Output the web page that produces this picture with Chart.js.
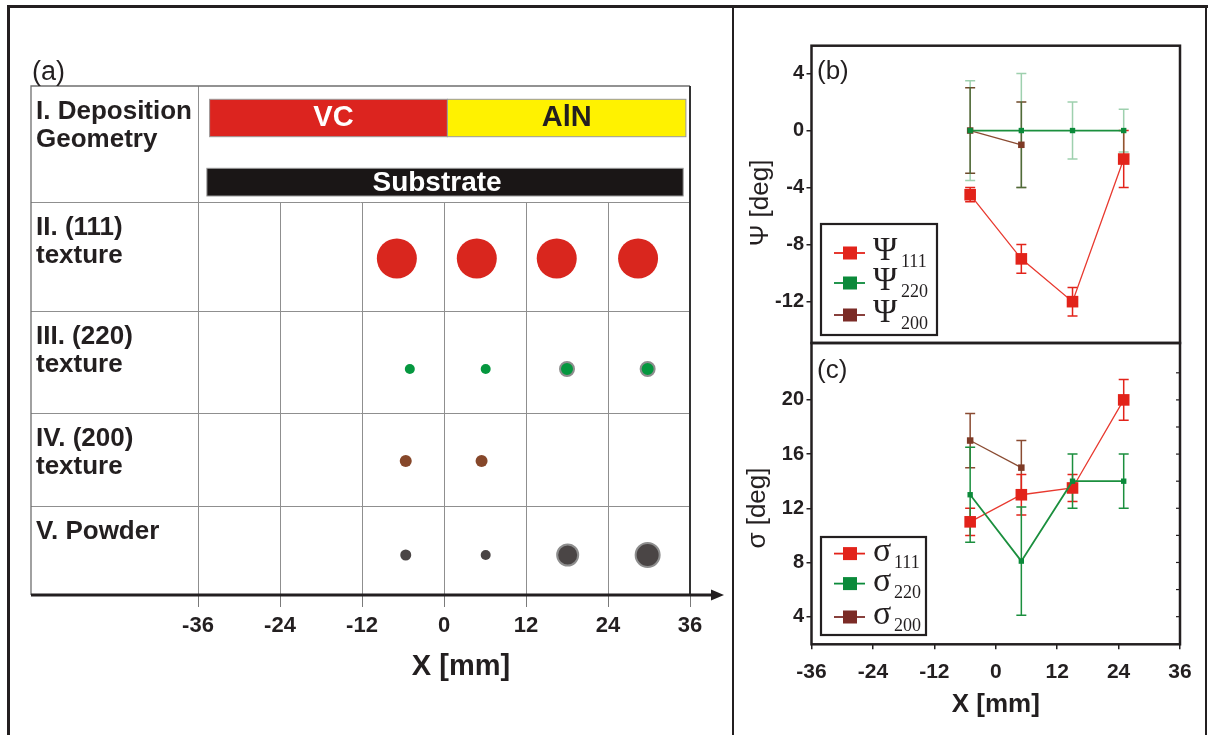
<!DOCTYPE html>
<html>
<head>
<meta charset="utf-8">
<title>Texture and tilt across the VC/AlN gradient</title>
<script src="https://cdn.jsdelivr.net/npm/chart.js@4.4.1/dist/chart.umd.min.js"></script>
<style>
  html, body { margin: 0; padding: 0; background: #fff; }
  body { width: 1211px; height: 735px; position: relative; overflow: hidden; }
  canvas { position: absolute; }
  #schemeChart { left: 0; top: 0; }
  #psiChart { left: 740px; top: 0; }
  #sigmaChart { left: 740px; top: 320px; }
  .rule { position: absolute; background: #231f20; }
</style>
</head>
<body>
<canvas id="schemeChart" width="733" height="735"></canvas>
<canvas id="sigmaChart" width="471" height="415"></canvas>
<canvas id="psiChart" width="471" height="370"></canvas>
<div class="rule" style="left:7px; top:5px; width:1201px; height:2.7px"></div>
<div class="rule" style="left:7.3px; top:5px; width:2.7px; height:740px"></div>
<div class="rule" style="left:1204.7px; top:5px; width:2.7px; height:740px"></div>
<div class="rule" style="left:731.6px; top:5px; width:2.7px; height:740px"></div>
<script>
const ink = '#231f20';

// ---- (a) texture map along the sample ----
const axisTicks = [-36, -24, -12, 0, 12, 24, 36];
const rowLabels = [
    ['I. Deposition', 'Geometry'],
    ['II. (111)', 'texture'],
    ['III. (220)', 'texture'],
    ['IV. (200)', 'texture'],
    ['V. Powder']
];
const tex111X = [-6.9, 4.8, 16.5, 28.4];
const tex111R = [20, 20, 20, 20];
const tex220X = [-5.0, 6.1, 18.0, 29.8];
const tex220R = [5, 5, 6, 6];
const tex220Halo = [0, 0, 2, 2];
const tex200X = [-5.6, 5.5];
const tex200R = [6, 6];
const powderX = [-5.6, 6.1, 18.1, 29.8];
const powderR = [5.5, 5, 9.5, 11];
const powderHalo = [0, 0, 2, 2];

// ---- (b) tilt and (c) spread of the texture components ----
const xPos = [-5, 5, 15, 25];
const psiTicks = [-12, -8, -4, 0, 4];
const psi111 = [-4.5, -9, -12, -2];
const psi111Err = [0.5, 1, 1, 2];
const psi220 = [0, 0, 0, 0];
const psi220Err = [3.5, 4, 2, 1.5];
const psi200 = [0, -1];
const psi200Err = [3, 3];

const sigmaTicks = [4, 8, 12, 16, 20];
const sigmaMinorTicks = [4, 6, 8, 10, 12, 14, 16, 18, 20, 22];
const sigma111 = [11, 13, 13.5, 20];
const sigma111Err = [1, 1.5, 1, 1.5];
const sigma220 = [13, 8.1, 14, 14];
const sigma220Err = [3.5, 4, 2, 2];
const sigma200 = [17, 15];
const sigma200Err = [2, 2];

// colours
const red = '#e2231a';
const green = '#0b8a3a';
const brown = '#7e3a26';

Chart.defaults.font.family = "'Liberation Sans', Arial, sans-serif";
Chart.defaults.color = ink;

// table rows (top to bottom) in table units, 1 unit = 1 px
const rowHeights = [116, 109, 102, 93, 89];
const rowDotDrop = [0, 2, 7, 1.5, 4.5];
const tableSpan = rowHeights.reduce((a, b) => a + b, 0);
function rowTop(i) {
    return tableSpan - rowHeights.slice(0, i).reduce((a, b) => a + b, 0);
}
function rowMid(i) {
    return rowTop(i) - rowHeights[i] / 2;
}

const depositionBars = [
    { label: 'VC', from: -34.3, to: 0.5, fill: '#dc241f', text: '#fff' },
    { label: 'AlN', from: 0.5, to: 35.4, fill: '#fff200', text: ink }
];
const substrateBar = { label: 'Substrate', from: -34.7, to: 35.0 };

function bubbleSet(xs, rs, halo, row, color) {
    const h = halo || xs.map(() => 0);
    return {
        data: xs.map((x, i) => ({ x: x, y: rowMid(row) - rowDotDrop[row], r: rs[i] + h[i] / 2 })),
        backgroundColor: color,
        borderColor: '#8e8e8e',
        borderWidth: h,
        clip: false
    };
}

const schemeTable = {
    id: 'schemeTable',
    beforeDatasetsDraw(chart) {
        const { ctx, chartArea: ca, scales: { x, y } } = chart;
        const tableLeft = 31;
        ctx.save();

        // row separators
        ctx.strokeStyle = '#8f8f8f';
        ctx.lineWidth = 1;
        for (let i = 1; i < rowHeights.length; i++) {
            const py = Math.round(y.getPixelForValue(rowTop(i))) + 0.5;
            ctx.beginPath();
            ctx.moveTo(tableLeft, py);
            ctx.lineTo(ca.right, py);
            ctx.stroke();
        }
        // column lines, only below the deposition row
        const row2 = y.getPixelForValue(rowTop(1));
        axisTicks.forEach(v => {
            const px = Math.round(x.getPixelForValue(v)) + 0.5;
            ctx.beginPath();
            ctx.moveTo(px, (v === axisTicks[0]) ? ca.top : row2);
            ctx.lineTo(px, ca.bottom);
            ctx.stroke();
        });
        // table border
        ctx.strokeStyle = '#6f6f6f';
        ctx.lineWidth = 1.3;
        ctx.beginPath();
        ctx.moveTo(tableLeft, ca.bottom);
        ctx.lineTo(tableLeft, ca.top);
        ctx.lineTo(ca.right, ca.top);
        ctx.stroke();
        ctx.strokeStyle = '#333';
        ctx.lineWidth = 2;
        ctx.beginPath();
        ctx.moveTo(ca.right, ca.top);
        ctx.lineTo(ca.right, ca.bottom);
        ctx.stroke();

        // deposition geometry
        const r1 = ca.top;
        ctx.textAlign = 'center';
        ctx.textBaseline = 'middle';
        ctx.lineWidth = 1;
        ctx.strokeStyle = '#9a9a9a';
        depositionBars.forEach(b => {
            const x0 = x.getPixelForValue(b.from), x1 = x.getPixelForValue(b.to);
            ctx.fillStyle = b.fill;
            ctx.fillRect(x0, r1 + 13.3, x1 - x0, 37.4);
            ctx.strokeRect(x0, r1 + 13.3, x1 - x0, 37.4);
            ctx.fillStyle = b.text;
            ctx.font = "bold 29px 'Liberation Sans', Arial";
            ctx.fillText(b.label, (x0 + x1) / 2 + (b.label === 'VC' ? 5 : 0), r1 + 32);
        });
        const s0 = x.getPixelForValue(substrateBar.from), s1 = x.getPixelForValue(substrateBar.to);
        ctx.fillStyle = '#1a1616';
        ctx.fillRect(s0, r1 + 82.3, s1 - s0, 27.7);
        ctx.strokeRect(s0, r1 + 82.3, s1 - s0, 27.7);
        ctx.fillStyle = '#fff';
        ctx.font = "bold 28px 'Liberation Sans', Arial";
        ctx.fillText(substrateBar.label, (s0 + s1) / 2 - 8, r1 + 97);

        // row labels
        ctx.fillStyle = ink;
        ctx.textAlign = 'left';
        ctx.textBaseline = 'alphabetic';
        ctx.font = "bold 26px 'Liberation Sans', Arial";
        rowLabels.forEach((lines, i) => {
            const top = y.getPixelForValue(rowTop(i));
            lines.forEach((t, k) => ctx.fillText(t, 36, top + 33 + k * 28));
        });
        ctx.restore();
    },
    afterDraw(chart) {
        const { ctx, chartArea: ca } = chart;
        ctx.save();
        // position axis with arrow head
        ctx.strokeStyle = ink;
        ctx.fillStyle = ink;
        ctx.lineWidth = 3;
        ctx.beginPath();
        ctx.moveTo(31, ca.bottom);
        ctx.lineTo(713, ca.bottom);
        ctx.stroke();
        ctx.beginPath();
        ctx.moveTo(711, ca.bottom - 5.5);
        ctx.lineTo(724, ca.bottom);
        ctx.lineTo(711, ca.bottom + 5.5);
        ctx.closePath();
        ctx.fill();

        ctx.textAlign = 'center';
        ctx.textBaseline = 'middle';
        ctx.font = "bold 29px 'Liberation Sans', Arial";
        ctx.fillText('X [mm]', 461, 667);

        ctx.textAlign = 'left';
        ctx.textBaseline = 'alphabetic';
        ctx.font = "27px 'Liberation Sans', Arial";
        ctx.fillText('(a)', 32, 80);
        ctx.restore();
    }
};

new Chart(document.getElementById('schemeChart'), {
    type: 'bubble',
    data: {
        datasets: [
            bubbleSet(tex111X, tex111R, null, 1, '#d9261e'),
            bubbleSet(tex220X, tex220R, tex220Halo, 2, '#05973f'),
            bubbleSet(tex200X, tex200R, null, 3, '#86472a'),
            bubbleSet(powderX, powderR, powderHalo, 4, '#4a4545')
        ]
    },
    options: {
        responsive: false,
        animation: false,
        events: [],
        layout: { padding: { left: 198, right: 43, top: 86, bottom: 0 } },
        plugins: { legend: { display: false }, tooltip: { enabled: false } },
        scales: {
            x: {
                type: 'linear',
                min: -36,
                max: 36,
                afterBuildTicks: s => { s.ticks = axisTicks.map(v => ({ value: v })); },
                afterFit: s => { s.height = 140; },
                grid: { drawOnChartArea: false, tickLength: 12, color: '#7a7a7a', lineWidth: 1 },
                border: { display: false },
                ticks: { font: { size: 22, weight: 'bold' }, padding: 6, color: ink }
            },
            y: { type: 'linear', display: false, min: 0, max: tableSpan }
        }
    },
    plugins: [schemeTable]
});

// ---- shared pieces for (b) and (c) ----
const errorBars = {
    id: 'errorBars',
    beforeDatasetsDraw(chart) {
        const { ctx, scales: { x, y } } = chart;
        const sets = chart.data.datasets.slice().sort((a, b) => b.order - a.order);
        ctx.save();
        sets.forEach(ds => {
            ctx.strokeStyle = ds.errorColor;
            ctx.lineWidth = 1.5;
            ds.data.forEach((p, i) => {
                const e = ds.errors[i];
                const px = x.getPixelForValue(p.x);
                const hi = y.getPixelForValue(p.y + e);
                const lo = y.getPixelForValue(p.y - e);
                ctx.beginPath();
                ctx.moveTo(px, hi); ctx.lineTo(px, lo);
                ctx.moveTo(px - 5, hi); ctx.lineTo(px + 5, hi);
                ctx.moveTo(px - 5, lo); ctx.lineTo(px + 5, lo);
                ctx.stroke();
            });
        });
        ctx.restore();
    }
};

const panelDecor = {
    id: 'panelDecor',
    afterDatasetsDraw(chart, args, opts) {
        const { ctx, chartArea: ca, scales: { y } } = chart;
        ctx.save();
        // plot frame
        ctx.strokeStyle = ink;
        ctx.lineWidth = 2.5;
        ctx.strokeRect(ca.left, ca.top, ca.right - ca.left, ca.bottom - ca.top);

        // inward ticks on the right edge
        ctx.lineWidth = 1.2;
        (opts.rightTicks || []).forEach(v => {
            const py = y.getPixelForValue(v);
            ctx.beginPath();
            ctx.moveTo(ca.right, py);
            ctx.lineTo(ca.right - 4, py);
            ctx.stroke();
        });

        // panel letter
        ctx.fillStyle = ink;
        ctx.font = "26px 'Liberation Sans', Arial";
        ctx.textAlign = 'left';
        ctx.textBaseline = 'alphabetic';
        ctx.fillText(opts.letter, ca.left + 5.5, ca.top + opts.letterDrop);

        // y title
        ctx.save();
        ctx.translate(ca.left - opts.titleGap, (ca.top + ca.bottom) / 2 + opts.titleShift);
        ctx.rotate(-Math.PI / 2);
        ctx.textAlign = 'center';
        ctx.textBaseline = 'middle';
        ctx.font = "26px 'Liberation Sans', Arial";
        ctx.fillText(opts.yTitle, 0, 0);
        ctx.restore();

        // legend
        const lg = opts.legend;
        const left = ca.left + 9.5;
        const top = ca.bottom - lg.dy - lg.h;
        ctx.fillStyle = '#fff';
        ctx.fillRect(left, top, lg.w, lg.h);
        ctx.lineWidth = 2.2;
        ctx.strokeStyle = ink;
        ctx.strokeRect(left, top, lg.w, lg.h);
        lg.items.forEach((it, i) => {
            const cy = top + lg.rows[i];
            ctx.strokeStyle = it.color;
            ctx.lineWidth = 1.8;
            ctx.beginPath();
            ctx.moveTo(left + 13, cy);
            ctx.lineTo(left + 44, cy);
            ctx.stroke();
            ctx.fillStyle = it.color;
            ctx.fillRect(left + 22, cy - 6.5, 14, 13);
            ctx.fillStyle = ink;
            ctx.font = lg.symFont;
            ctx.fillText(it.sym, left + 52, cy + 7);
            ctx.font = "18px 'Liberation Serif', 'Times New Roman', serif";
            ctx.fillText(it.sub, left + lg.subX, cy + 14);
        });
        ctx.restore();
    }
};

function series(ys, errs, color, lineColor, errColor, size, order, lineWidth) {
    return {
        data: ys.map((v, i) => ({ x: xPos[i], y: v })),
        errors: errs,
        errorColor: errColor,
        borderColor: lineColor,
        borderWidth: lineWidth,
        pointStyle: 'rect',
        pointRadius: size,
        pointBackgroundColor: color,
        pointBorderWidth: 0,
        order: order,
        tension: 0,
        clip: false
    };
}

const commonOptions = {
    responsive: false,
    animation: false,
    events: []
};

const yAxisBase = {
    type: 'linear',
    afterFit: s => { s.width = 66; },
    grid: { drawOnChartArea: false, tickLength: 5, color: ink, lineWidth: 1.5 },
    border: { display: false },
    ticks: { font: { size: 20, weight: 'bold' }, padding: 2.5, color: ink }
};

// (b) tilt angle
new Chart(document.getElementById('psiChart'), {
    type: 'line',
    data: {
        datasets: [
            series(psi111, psi111Err, red, '#e8392f', red, 8.2, 1, 1.3),
            series(psi220, psi220Err, green, '#1b8f3e', 'rgba(40,150,75,0.45)', 3.8, 0, 1.8),
            series(psi200, psi200Err, brown, '#8a4b32', '#6f4a2a', 4.6, 2, 1.3)
        ]
    },
    options: {
        ...commonOptions,
        layout: { padding: { left: 5.5, right: 31, top: 45.7, bottom: 27 } },
        scales: {
            x: { type: 'linear', display: false, min: -36, max: 36 },
            y: {
                ...yAxisBase,
                min: -14.9,
                max: 5.95,
                afterBuildTicks: s => { s.ticks = psiTicks.map(v => ({ value: v })); }
            }
        },
        plugins: {
            legend: { display: false },
            tooltip: { enabled: false },
            panelDecor: {
                letter: '(b)',
                letterDrop: 33,
                yTitle: 'Ψ [deg]',
                titleGap: 50.5,
                titleShift: 8.6,
                legend: {
                    dy: 8, w: 116, h: 111, rows: [29, 59, 91], subX: 80,
                    symFont: "33px 'Liberation Serif', 'Times New Roman', serif",
                    items: [
                        { sym: 'Ψ', sub: '111', color: red },
                        { sym: 'Ψ', sub: '220', color: green },
                        { sym: 'Ψ', sub: '200', color: '#7b2b26' }
                    ]
                }
            }
        }
    },
    plugins: [errorBars, panelDecor]
});

// (c) angular spread
new Chart(document.getElementById('sigmaChart'), {
    type: 'line',
    data: {
        datasets: [
            series(sigma111, sigma111Err, red, '#e8392f', red, 8.2, 1, 1.3),
            series(sigma220, sigma220Err, green, '#1b8f3e', '#1b8f3e', 3.8, 0, 1.8),
            series(sigma200, sigma200Err, brown, '#8a4b32', '#8a4b32', 4.6, 2, 1.3)
        ]
    },
    options: {
        ...commonOptions,
        layout: { padding: { left: 5.5, right: 31, top: 23, bottom: 0 } },
        scales: {
            x: {
                type: 'linear',
                min: -36,
                max: 36,
                afterBuildTicks: s => { s.ticks = axisTicks.map(v => ({ value: v })); },
                afterFit: s => { s.height = 90.7; },
                grid: { drawOnChartArea: false, tickLength: 5, color: ink, lineWidth: 1.5 },
                border: { display: false },
                ticks: { font: { size: 21, weight: 'bold' }, padding: 10, color: ink },
                title: {
                    display: true,
                    text: 'X [mm]',
                    font: { size: 26, weight: 'bold' },
                    color: ink,
                    padding: { top: 0, bottom: 14.4 }
                }
            },
            y: {
                ...yAxisBase,
                min: 1.96,
                max: 24.2,
                afterBuildTicks: s => { s.ticks = sigmaTicks.map(v => ({ value: v })); }
            }
        },
        plugins: {
            legend: { display: false },
            tooltip: { enabled: false },
            panelDecor: {
                letter: '(c)',
                letterDrop: 35,
                yTitle: 'σ [deg]',
                titleGap: 53.5,
                titleShift: 14.4,
                rightTicks: sigmaMinorTicks,
                legend: {
                    dy: 9.3, w: 105, h: 98, rows: [16.6, 46.6, 80], subX: 73,
                    symFont: "34px 'Liberation Serif', 'Times New Roman', serif",
                    items: [
                        { sym: 'σ', sub: '111', color: red },
                        { sym: 'σ', sub: '220', color: green },
                        { sym: 'σ', sub: '200', color: '#7b2b26' }
                    ]
                }
            }
        }
    },
    plugins: [errorBars, panelDecor]
});
</script>
</body>
</html>
